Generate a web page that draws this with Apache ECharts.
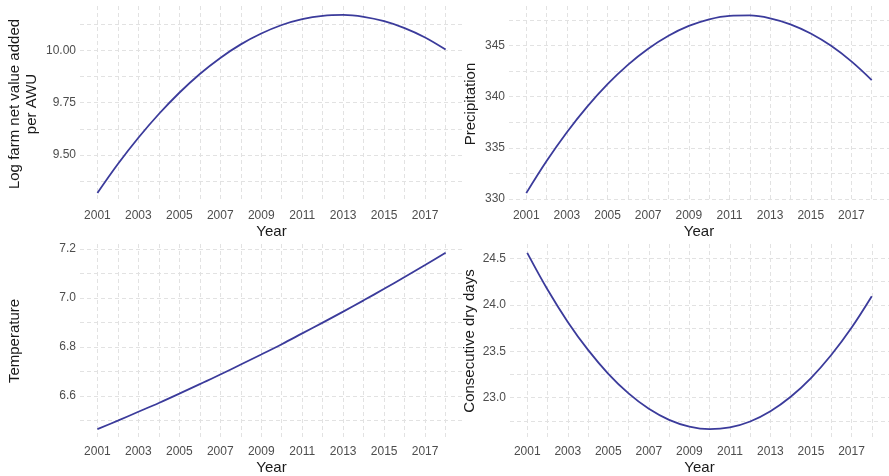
<!DOCTYPE html>
<html>
<head>
<meta charset="utf-8">
<script src="https://cdn.jsdelivr.net/npm/echarts@6/dist/echarts.min.js"></script>
<style>
  html, body { margin: 0; padding: 0; background: #ffffff; }
  #chart { width: 889px; height: 476px; }
</style>
</head>
<body>
<div id="chart"></div>
<script>
// Fitted trends, one value per year
const years = [2001, 2002, 2003, 2004, 2005, 2006, 2007, 2008, 2009,
               2010, 2011, 2012, 2013, 2014, 2015, 2016, 2017, 2018];

const farmValue = [9.317, 9.456, 9.582, 9.696, 9.798, 9.888, 9.965, 10.030, 10.082,
                   10.123, 10.151, 10.167, 10.171, 10.162, 10.141, 10.108, 10.063, 10.005];

const precipitation = [330.56, 333.70, 336.52, 339.03, 341.23, 343.12, 344.70, 345.97, 346.93,
                       347.58, 347.92, 347.96, 347.68, 347.09, 346.19, 344.98, 343.46, 341.63];

const temperature = [6.465, 6.500, 6.536, 6.572, 6.610, 6.649, 6.688, 6.729, 6.770,
                     6.812, 6.856, 6.900, 6.945, 6.991, 7.038, 7.086, 7.135, 7.185];

const dryDays = [24.560, 24.165, 23.816, 23.514, 23.257, 23.046, 22.880, 22.761, 22.688,
                 22.660, 22.679, 22.743, 22.853, 23.009, 23.211, 23.459, 23.752, 24.092];

// Axis breaks
const yearLabels = [2001, 2003, 2005, 2007, 2009, 2011, 2013, 2015, 2017];
const yearGridLines = years;

const farmTicks = [9.50, 9.75, 10.00];
const farmMinor = [9.375, 9.625, 9.875, 10.125];
const precipTicks = [330, 335, 340, 345];
const precipMinor = [332.5, 337.5, 342.5, 347.5];
const tempTicks = [6.6, 6.8, 7.0, 7.2];
const tempMinor = [6.5, 6.7, 6.9, 7.1];
const dryTicks = [23.0, 23.5, 24.0, 24.5];
const dryMinor = [22.75, 23.25, 23.75, 24.25];

const FONT = '"Liberation Sans", Arial, Helvetica, sans-serif';
const LINE_COLOR = '#3b3b9b';
const GRID_COLOR = '#e2e2e2';
const LABEL_COLOR = '#4d4d4d';
const TITLE_COLOR = '#1a1a1a';

const panels = [
  { name: 'Log farm net value added\nper AWU', values: farmValue, ticks: farmTicks, minor: farmMinor,
    digits: 2, yMin: 9.274, yMax: 10.214, grid: { left: 80, top: 6, width: 383, height: 196 }, nameGap: 40 },
  { name: 'Precipitation', values: precipitation, ticks: precipTicks, minor: precipMinor,
    digits: 0, yMin: 329.69, yMax: 348.88, grid: { left: 509, top: 6, width: 384, height: 196 }, nameGap: 30 },
  { name: 'Temperature', values: temperature, ticks: tempTicks, minor: tempMinor,
    digits: 1, yMin: 6.429, yMax: 7.221, grid: { left: 80, top: 244, width: 383, height: 195 }, nameGap: 57 },
  { name: 'Consecutive dry days', values: dryDays, ticks: dryTicks, minor: dryMinor,
    digits: 1, yMin: 22.565, yMax: 24.655, grid: { left: 510, top: 244, width: 383, height: 195 }, nameGap: 30 }
];

const splitLine = {
  show: true,
  lineStyle: { color: GRID_COLOR, width: 1, type: [4, 3] }
};

const option = {
  backgroundColor: '#ffffff',
  animation: false,
  textStyle: { fontFamily: FONT },
  grid: panels.map(p => Object.assign({ containLabel: false }, p.grid)),
  xAxis: panels.map((p, i) => ({
    type: 'value',
    gridIndex: i,
    min: 2000.15,
    max: 2018.85,
    axisLine: { show: false },
    axisTick: { show: false, customValues: yearGridLines },
    axisLabel: {
      customValues: yearLabels,
      color: LABEL_COLOR,
      fontSize: 12,
      margin: 8,
      fontFamily: FONT,
      formatter: v => String(Math.round(v))
    },
    splitLine: splitLine,
    name: 'Year',
    nameLocation: 'middle',
    nameGap: 22,
    nameTextStyle: { color: TITLE_COLOR, fontSize: 15, fontFamily: FONT }
  })),
  yAxis: panels.map((p, i) => ({
    type: 'value',
    gridIndex: i,
    min: p.yMin,
    max: p.yMax,
    axisLine: { show: false },
    axisTick: { show: false, customValues: p.ticks.concat(p.minor) },
    axisLabel: {
      customValues: p.ticks,
      color: LABEL_COLOR,
      fontSize: 12,
      margin: 4,
      fontFamily: FONT,
      formatter: v => Number(v).toFixed(p.digits)
    },
    splitLine: splitLine,
    name: p.name,
    nameLocation: 'middle',
    nameRotate: 90,
    nameGap: p.nameGap,
    nameTextStyle: { color: TITLE_COLOR, fontSize: 15, fontFamily: FONT, lineHeight: 17, align: 'center' }
  })),
  series: panels.map((p, i) => ({
    type: 'line',
    xAxisIndex: i,
    yAxisIndex: i,
    data: years.map((y, k) => [y, p.values[k]]),
    showSymbol: false,
    smooth: 0.35,
    silent: true,
    lineStyle: { color: LINE_COLOR, width: 1.8 }
  }))
};

const chart = echarts.init(document.getElementById('chart'), null, { renderer: 'canvas' });
chart.setOption(option);
</script>
</body>
</html>
